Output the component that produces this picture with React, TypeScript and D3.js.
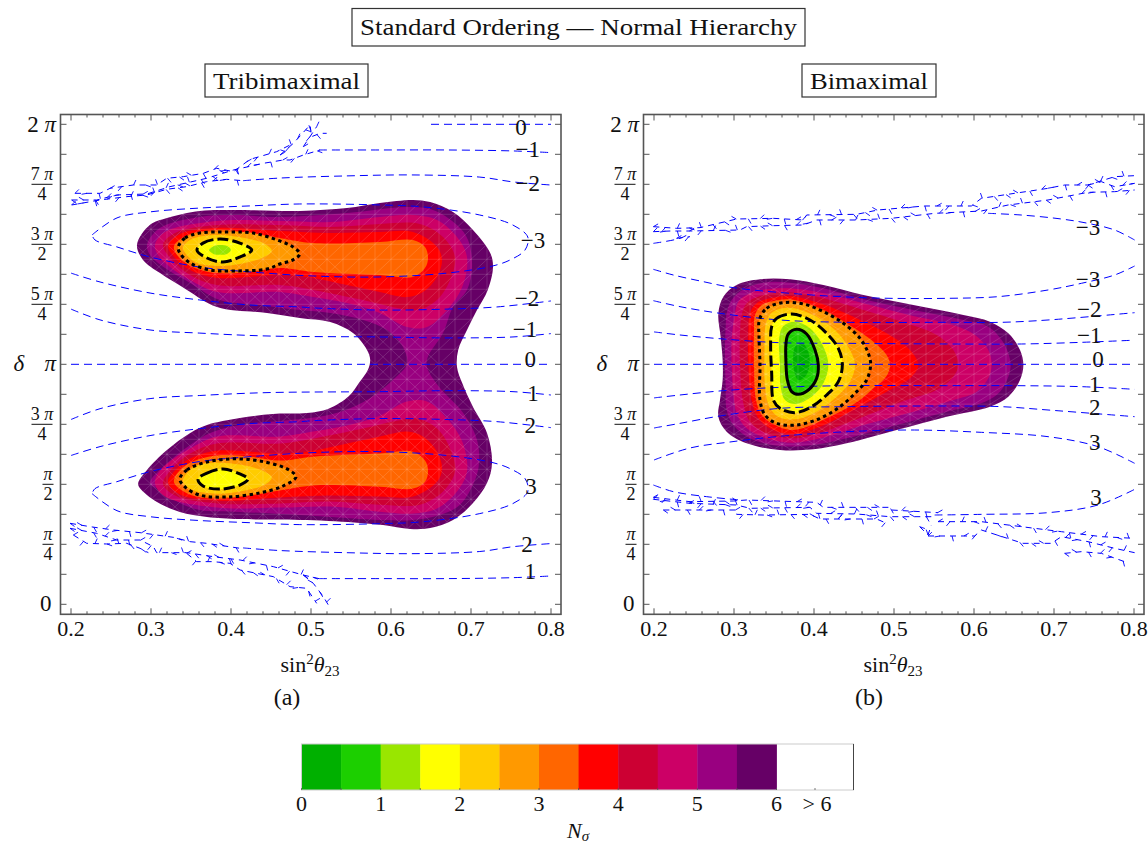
import React from "react";
import * as d3 from "d3";

type P = [number, number];

// Band colours, from the lowest N_sigma band upward
const bandColors = ["#00B000", "#1CCF00", "#99E600", "#FFFF00", "#FFCC00", "#FF9900", "#FF6600", "#FF0000", "#CC0033", "#CC0066", "#990080", "#660066"];
const barTicks = ["0", "1", "2", "3", "4", "5", "6"];

// ---- Tribimaximal: contours [sin^2 theta23, delta/pi]
const triLevel6: P[] = [[.2825,1.498],[.2988,1.581],[.32,1.61],[.361,1.639],[.4025,1.643],[.486,1.639],[.545,1.651],[.586,1.672],[.6275,1.685],[.649,1.676],[.6775,1.635],[.7025,1.56],[.724,1.464],[.7275,1.405],[.721,1.31],[.7075,1.226],[.695,1.143],[.684,1.06],[.6825,.989],[.689,.922],[.7025,.822],[.72,.714],[.7263,.589],[.72,.505],[.7025,.422],[.6775,.351],[.649,.318],[.624,.314],[.59,.33],[.561,.339],[.495,.351],[.411,.355],[.37,.364],[.336,.385],[.3075,.426],[.286,.485],[.284,.505],[.295,.56],[.32,.643],[.349,.714],[.37,.747],[.411,.776],[.4525,.793],[.495,.797],[.522,.815],[.5475,.868],[.5605,.925],[.571,.976],[.574,1.018],[.57,1.06],[.5525,1.13],[.524,1.176],[.486,1.193],[.445,1.214],[.3825,1.239],[.345,1.31],[.3113,1.38],[.29,1.435]];
const triLevel55: P[] = [[.295,1.498],[.311,1.568],[.361,1.614],[.4025,1.622],[.461,1.614],[.545,1.63],[.62,1.655],[.6525,1.643],[.6825,1.58],[.6963,1.518],[.7013,1.405],[.695,1.31],[.6775,1.239],[.665,1.13],[.646,1.03],[.645,.989],[.66,.906],[.69,.798],[.7075,.685],[.71,.589],[.705,.518],[.686,.414],[.661,.372],[.6275,.351],[.59,.351],[.486,.372],[.411,.385],[.361,.393],[.336,.422],[.311,.476],[.2988,.505],[.3175,.58],[.349,.664],[.374,.714],[.411,.747],[.461,.764],[.499,.776],[.5363,.801],[.574,.86],[.605,.943],[.62,1.001],[.615,1.072],[.595,1.143],[.565,1.185],[.524,1.214],[.486,1.226],[.436,1.247],[.386,1.268],[.349,1.339],[.3175,1.401],[.2988,1.455]];
const triLevel5: P[] = [[.305,1.498],[.3175,1.551],[.3825,1.597],[.461,1.597],[.524,1.593],[.586,1.614],[.6275,1.622],[.6575,1.601],[.6825,1.53],[.695,1.447],[.689,1.322],[.67,1.226],[.645,1.155],[.62,1.155],[.586,1.214],[.545,1.255],[.5025,1.28],[.461,1.301],[.3825,1.301],[.349,1.351],[.3238,1.405],[.3088,1.455]];
const triLevel45: P[] = [[.315,1.498],[.33,1.547],[.3825,1.58],[.461,1.58],[.524,1.572],[.586,1.585],[.636,1.585],[.665,1.53],[.68,1.447],[.6738,1.351],[.6575,1.268],[.6325,1.226],[.6075,1.235],[.565,1.268],[.5025,1.31],[.461,1.33],[.3825,1.33],[.349,1.372],[.3263,1.435]];
const triLevel4: P[] = [[.3213,1.493],[.3363,1.543],[.3825,1.568],[.461,1.555],[.524,1.547],[.586,1.551],[.6275,1.551],[.6575,1.489],[.6638,1.435],[.6575,1.364],[.64,1.301],[.62,1.28],[.586,1.301],[.545,1.33],[.5025,1.36],[.461,1.372],[.3825,1.36],[.349,1.393],[.33,1.443]];
const triLevel35: P[] = [[.3288,1.493],[.346,1.539],[.3825,1.56],[.4238,1.547],[.461,1.526],[.5025,1.505],[.586,1.51],[.6275,1.518],[.6425,1.489],[.6463,1.443],[.6425,1.401],[.6275,1.364],[.586,1.372],[.5025,1.385],[.461,1.401],[.4238,1.385],[.3825,1.38],[.349,1.41],[.3325,1.455]];
const triLevel3Up: P[] = [[.334,1.489],[.3425,1.526],[.361,1.547],[.395,1.551],[.4275,1.547],[.461,1.514],[.4775,1.489],[.486,1.46],[.4775,1.435],[.461,1.418],[.445,1.397],[.4025,1.389],[.374,1.393],[.349,1.422],[.336,1.464]];
const triLevel3Down: P[] = [[.336,.522],[.345,.56],[.37,.593],[.4025,.606],[.436,.597],[.47,.564],[.4813,.531],[.465,.493],[.436,.464],[.395,.447],[.361,.455],[.3425,.489]];
const triLevel25: P[] = [[.34,1.485],[.351,1.522],[.3825,1.539],[.4175,1.526],[.4425,1.501],[.451,1.472],[.4388,1.443],[.411,1.418],[.3825,1.41],[.355,1.426]];
const triLevel2Up: P[] = [[.3575,1.476],[.365,1.505],[.386,1.522],[.411,1.505],[.426,1.476],[.411,1.447],[.39,1.426],[.37,1.443]];
const triLevel2Down: P[] = [[.3588,.522],[.37,.547],[.39,.564],[.411,.543],[.4213,.522],[.411,.497],[.386,.48],[.365,.493]];
const triLevel15: P[] = [[.3725,1.476],[.379,1.493],[.386,1.497],[.395,1.493],[.4,1.476],[.395,1.46],[.386,1.456],[.378,1.46]];

// ---- Bimaximal: contours
const biLevel6: P[] = [[.2804,1.2124],[.2867,1.2818],[.3033,1.3304],[.3325,1.354],[.37,1.354],[.4117,1.3304],[.4617,1.2888],[.5242,1.2471],[.5867,1.2054],[.62,1.1777],[.6429,1.129],[.6575,1.0596],[.6617,.9971],[.6575,.9346],[.6429,.8652],[.62,.8235],[.5658,.7818],[.5033,.7263],[.4408,.6707],[.3992,.6457],[.3575,.6429],[.3158,.6707],[.2908,.7193],[.2804,.7818],[.2825,.8513],[.2858,.9346],[.2858,1.018],[.2833,1.1152]];
const biLevel55: P[] = [[.2908,1.2124],[.2971,1.268],[.3117,1.3124],[.3367,1.3402],[.37,1.3402],[.4117,1.3165],[.4617,1.2707],[.5242,1.2263],[.5867,1.1846],[.6179,1.1568],[.6346,1.1013],[.6429,1.0457],[.6458,.9971],[.6429,.9485],[.6325,.886],[.6138,.8443],[.5658,.8026],[.5033,.7471],[.4408,.6916],[.3992,.6638],[.3575,.6596],[.32,.6916],[.2992,.7471],[.2908,.8096],[.2896,.9068],[.2888,.9971],[.2888,1.0874],[.2896,1.1568]];
const biLevel5: P[] = [[.3013,1.2124],[.3054,1.261],[.32,1.2957],[.3408,1.3124],[.37,1.3165],[.4117,1.2957],[.4617,1.2541],[.5242,1.2013],[.5742,1.1638],[.6013,1.1221],[.6179,1.0596],[.6221,.9971],[.6179,.9415],[.6033,.886],[.5742,.8513],[.5242,.8026],[.4617,.7471],[.4075,.6916],[.3742,.6735],[.345,.6874],[.3158,.7332],[.3033,.7957],[.2992,.879],[.2971,.9971],[.2971,1.1013]];
const biLevel45: P[] = [[.3096,1.2054],[.3158,1.254],[.3325,1.2846],[.37,1.3],[.4117,1.2749],[.4617,1.2263],[.5158,1.1707],[.5533,1.1221],[.5742,1.0596],[.5804,.9971],[.5742,.9485],[.5533,.893],[.5158,.8513],[.4617,.7818],[.4117,.7193],[.3742,.6915],[.3408,.7124],[.32,.761],[.3117,.8374],[.3075,.9971],[.3075,1.1291]];
const biLevel4: P[] = [[.32,1.2124],[.3283,1.2541],[.345,1.2749],[.37,1.2846],[.4075,1.2541],[.4492,1.1985],[.4908,1.1291],[.52,1.0596],[.5304,.9971],[.5221,.9485],[.4908,.886],[.4492,.8096],[.4075,.7402],[.3742,.7096],[.3492,.7263],[.3304,.7749],[.3221,.8513],[.3179,.9971],[.3179,1.1291]];
const biLevel35: P[] = [[.3263,1.2054],[.3346,1.2471],[.3513,1.2652],[.37,1.2707],[.4075,1.2332],[.4408,1.1707],[.4742,1.0943],[.4905,1.04],[.495,.9971],[.4905,.95],[.4742,.9],[.4575,.8513],[.42,.7818],[.3742,.7263],[.3513,.7471],[.3346,.7888],[.3275,.8513],[.325,.9971],[.325,1.1291]];
const biLevel3: P[] = [[.3317,1.1846],[.3408,1.2332],[.3617,1.2568],[.3867,1.2513],[.4117,1.2193],[.4367,1.1707],[.4575,1.1082],[.4679,1.0457],[.4708,.9971],[.4658,.9346],[.4533,.886],[.4325,.8235],[.4075,.7749],[.3783,.7471],[.3533,.7541],[.3388,.7888],[.3325,.8513],[.3325,.9971],[.3313,1.1152]];
const biLevel25: P[] = [[.34,1.1707],[.3471,1.2152],[.3679,1.236],[.399,1.2054],[.4283,1.136],[.445,1.0596],[.4513,.9971],[.445,.9277],[.4283,.8652],[.4033,.8027],[.3763,.7707],[.3554,.7818],[.3442,.8235],[.3388,.9068],[.338,1.0596]];
const biLevel2: P[] = [[.3471,1.1568],[.3533,1.1915],[.3721,1.2096],[.395,1.1846],[.4158,1.1291],[.4304,1.0665],[.4354,.9971],[.4304,.9277],[.4158,.8721],[.3971,.8235],[.3763,.7985],[.3575,.8165],[.3492,.8513],[.3471,.9624],[.3458,1.0735]];
const biLevel15: P[] = [[.3567,1.1152],[.3617,1.1596],[.3763,1.1776],[.395,1.1499],[.4117,1.0735],[.4179,.9971],[.4117,.9207],[.3971,.8652],[.3763,.8346],[.3638,.8513],[.3583,.9068],[.3575,.9971]];
const biLevel1: P[] = [[.365,1.0874],[.3679,1.1263],[.3783,1.1457],[.3908,1.1263],[.4013,1.0596],[.4054,.9971],[.4033,.9415],[.3929,.8929],[.3804,.8749],[.3721,.886],[.3667,.9346],[.365,1.0041]];
const biLevel05: P[] = [[.3763,1.0735],[.3846,1.0902],[.3929,1.0527],[.3942,.9902],[.3888,.9485],[.3804,.9346],[.375,.9763]];

// ---- Blue contour lines, tribimaximal (upper half; the lower half is its reflection)
const triBlueZero: P[] = [[.2,1],[.8,1]];
const triBlueZeroTop: P[] = [[.65,2],[.8,2]];
const triBlueM1Top: P[] = [[.51,1.893],[.586,1.893],[.67,1.893],[.7525,1.889],[.8,1.882]];
const triBlueM2Top: P[] = [[.415,1.765],[.461,1.776],[.545,1.785],[.6275,1.789],[.711,1.78],[.7525,1.76],[.8,1.747]];
const triBlueM3: P[] = [[.2263,1.539],[.2575,1.61],[.2988,1.635],[.361,1.651],[.4238,1.66],[.486,1.668],[.586,1.664],[.64,1.656],[.711,1.622],[.7525,1.58],[.771,1.53],[.7675,1.476],[.749,1.435],[.7275,1.41],[.67,1.38],[.586,1.364],[.5025,1.368],[.4238,1.385],[.361,1.405],[.2988,1.447],[.2575,1.489],[.23,1.518],[.2263,1.539]];
const triBlueM2Low: P[] = [[.2,1.38],[.2363,1.343],[.2988,1.297],[.361,1.268],[.4238,1.247],[.486,1.239],[.5025,1.235],[.586,1.226],[.67,1.23],[.7325,1.239],[.8,1.264]];
const triBlueM1Low: P[] = [[.2,1.23],[.2363,1.185],[.2988,1.143],[.361,1.13],[.445,1.118],[.586,1.114],[.67,1.11],[.7525,1.114],[.8,1.128]];

// Broken, noisy stretches of the blue contours, tribimaximal
const triNoiseTop: P[][] = [
  [[.2008,1.6638],[.2363,1.6846],[.2696,1.6985],[.2946,1.7055],[.3196,1.7291],[.3446,1.7402],[.3696,1.761],[.3946,1.7707],[.415,1.765]],
  [[.205,1.7124],[.2363,1.7124],[.2488,1.7333],[.2779,1.7471],[.3071,1.7471],[.3196,1.7749],[.3404,1.7819],[.3654,1.7957],[.3821,1.8166],[.403,1.8027],[.4238,1.854],[.4571,1.886],[.478,1.9207]],
  [[.2008,1.6846],[.2321,1.6846],[.2571,1.7055],[.2946,1.7096],[.3238,1.7402],[.3696,1.775],[.403,1.8096],[.4404,1.8374],[.4654,1.8513],[.4738,1.8513],[.4904,1.872],[.5113,1.893]],
  [[.4613,1.872],[.478,1.9207],[.4988,1.9971],[.5008,1.9485],[.5113,1.9624],[.5196,1.9624]],
  [[.4904,1.9069],[.5071,1.9902]],
];
const triNoiseBottom: P[][] = [
  [[.1988,.3374],[.2238,.3235],[.2529,.3096],[.2863,.2985],[.328,.279],[.3488,.261],[.3696,.2541],[.4113,.2333]],
  [[.1988,.3166],[.2321,.2957],[.2571,.2679],[.2863,.2679],[.303,.2402],[.3071,.2152],[.3446,.2152],[.3779,.1985],[.4113,.1846],[.4529,.1569],[.49,.1221],[.51,.107]],
  [[.2029,.2888],[.2196,.2541],[.2446,.2513],[.2696,.2541],[.2863,.2333],[.2967,.2152]],
  [[.3446,.2124],[.3571,.1777],[.3779,.1777],[.3988,.1707],[.4113,.143],[.4321,.129],[.4529,.1152],[.4738,.0735],[.4946,.0666],[.5071,.004]],
  [[.4904,.122],[.5029,.0874],[.5154,.0319],[.5217,-.003]],
];

// ---- Blue contour lines, bimaximal
const biBlueZero: P[] = [[.2,1],[.8,1]];
const biBlueM3Top: P[] = [[.6175,1.629],[.6592,1.622],[.7092,1.6054],[.7425,1.5873],[.7758,1.5596],[.8008,1.5179]];
const biBlueM3Left: P[] = [[.1992,1.504],[.2325,1.5249],[.245,1.5457]];
const biBlueM3Low: P[] = [[.1992,1.3957],[.2242,1.372],[.2617,1.3443],[.2992,1.3193],[.37,1.2957],[.4325,1.2818],[.495,1.2749],[.5675,1.2749],[.63,1.2818],[.6925,1.3096],[.7342,1.3374],[.7758,1.3721],[.8008,1.4096]];
const biBlueM2: P[] = [[.1992,1.2651],[.2325,1.2402],[.2825,1.2124],[.3575,1.1846],[.4408,1.1749],[.5658,1.1749],[.6342,1.1749],[.6925,1.1846],[.8008,1.2151]];
const biBlueM1: P[] = [[.2,1.135],[.2325,1.1221],[.2867,1.1054],[.3575,1.09],[.4408,1.0874],[.5658,1.0846],[.6592,1.0846],[.7342,1.0915],[.7967,1.0999]];
const biBlueP1: P[] = [[.2,.86],[.2325,.8721],[.2867,.8902],[.3575,.9041],[.4408,.911],[.5658,.911],[.6508,.911],[.7342,.9068],[.8008,.8957]];
const biBlueP2: P[] = [[.2,.7346],[.2325,.754],[.2825,.7846],[.3575,.8165],[.4408,.8235],[.5658,.8263],[.6342,.8235],[.6925,.8096],[.8008,.7818]];
const biBlueP3Up: P[] = [[.2,.6013],[.245,.6513],[.295,.6763],[.3575,.7],[.4425,.7193],[.5258,.7262],[.6092,.7165],[.6925,.6985],[.755,.6568],[.8008,.5874]];
const biBlueP3LowLeft: P[] = [[.1992,.4971],[.2242,.4693],[.2658,.4485],[.3075,.4346]];
const biBlueP3LowRight: P[] = [[.5508,.372],[.6092,.3748],[.6925,.3818],[.755,.4137],[.8008,.479]];
const biNoiseTop: P[][] = [
  [[.1992,1.5526],[.22,1.5554],[.245,1.5554],[.3075,1.5596],[.3158,1.5735],[.3492,1.5776],[.3867,1.5804],[.4033,1.6013],[.4533,1.6013],[.4967,1.6082],[.5508,1.629],[.6092,1.6387],[.6425,1.6637],[.6925,1.6846],[.7425,1.7165],[.7758,1.7193],[.8008,1.7263]],
  [[.1992,1.5735],[.2283,1.5665],[.2575,1.5693],[.3033,1.6054],[.3492,1.6082],[.3867,1.6013],[.3908,1.6221],[.4533,1.6249],[.48,1.643],[.5383,1.6596],[.5967,1.6596],[.6092,1.6915],[.6508,1.7124],[.6925,1.7332],[.7133,1.7471],[.7425,1.7471],[.7758,1.7818],[.8008,1.786]],
  [[.7425,1.7471],[.7592,1.761],[.7758,1.74],[.8008,1.754]],
  [[.2283,1.5249],[.245,1.5318]],
];
const biNoiseBottom: P[][] = [
  [[.1992,.4457],[.245,.4276],[.2992,.4304],[.3158,.4346],[.4033,.4248],[.4117,.404],[.4533,.404],[.495,.404],[.4967,.3929],[.555,.3818]],
  [[.1992,.4374],[.245,.4207],[.3033,.4137],[.32,.4],[.395,.404],[.4033,.379],[.4533,.3762],[.495,.3651],[.5508,.3651]],
  [[.2117,.3929],[.3033,.3929],[.3033,.3748],[.3367,.372],[.395,.3748],[.4075,.3554],[.4783,.3554],[.4908,.3373]],
  [[.555,.3443],[.6092,.3443],[.6592,.3235],[.7092,.3026],[.7592,.2818],[.8008,.2748]],
  [[.5425,.2846],[.6008,.2846],[.6092,.3096],[.6613,.254],[.6967,.254],[.7092,.2818],[.7425,.261],[.7758,.2332],[.8008,.2151]],
  [[.7133,.2123],[.7342,.2193],[.7592,.2123],[.7883,.1776]],
  [[.5321,.3235],[.5425,.2888],[.5467,.3304]],
];

// Directions (degrees) of the short stray strokes along the noisy stretches
const strayAngles = [35, -150, 60, -45, 170, 75, -30, 130, -65, 20, -110, 50];

// ---- Contour number labels: text, x, delta/pi
const triLabelText = ["0", "\u22121", "\u22122", "\u22123", "\u22122", "\u22121", "0", "1", "2", "3", "2", "1"];
const triLabelX = [.7625, .771, .771, .7775, .77, .7675, .774, .7775, .774, .775, .77, .774];
const triLabelD = [1.985, 1.897, 1.755, 1.514, 1.276, 1.143, 1.018, .88, .743, .489, .251, .135];
const biLabelText = ["\u22123", "\u22123", "\u22122", "\u22121", "0", "1", "2", "3", "3"];
const biLabelX = [.7425, .7425, .744, .744, .755, .751, .751, .751, .7525];
const biLabelD = [1.572, 1.355, 1.23, 1.118, 1.018, .914, .822, .676, .447];

// ---- Axis ticks
const xMajor = [.2, .3, .4, .5, .6, .7, .8];
const deltaFractions: [number, string, string][] = [[1.75, "7", "4"], [1.5, "3", "2"], [1.25, "5", "4"], [.75, "3", "4"], [.5, "", "2"], [.25, "", "4"]];

const FONT = "'Liberation Serif', 'DejaVu Serif', serif";
const PI = "\u03c0";
const mirror = (pts: P[]): P[] => pts.map(([x, d]) => [x, 2 - d] as P);

type Fill = { level: number; shapes: P[][] };
type PanelProps = {
  left: number;
  fills: Fill[];
  dotted: P[][];
  dashed: P[][];
  solid: P[][];
  blue: P[][];
  noise: P[][];
  labelText: string[];
  labelX: number[];
  labelD: number[];
  clipId: string;
  meshStepD: number;
};

function Panel({ left, fills, dotted, dashed, solid, blue, noise, labelText, labelX, labelD, clipId, meshStepD }: PanelProps) {
  const x = d3.scaleLinear().domain([.2, .8]).range([left, left + 480]);
  const y = d3.scaleLinear().domain([0, 2]).range([604.3, 124.3]);
  const closed = d3.line<P>().x((p) => x(p[0])).y((p) => y(p[1])).curve(d3.curveCatmullRomClosed.alpha(0.5));
  const open = d3.line<P>().x((p) => x(p[0])).y((p) => y(p[1])).curve(d3.curveCatmullRom.alpha(0.5));
  const rough = d3.line<P>().x((p) => x(p[0])).y((p) => y(p[1])).curve(d3.curveLinear);
  const frame = { l: x(.2) - 10.5, r: x(.8) + 10, t: 114.5, b: 614.3 };
  const minorX = d3.range(.2, .8001, .02);
  const minorY = d3.range(0, 2.001, .125);
  const meshX = d3.range(.2, .8001, .02);
  const meshY = d3.range(0, 2.001, meshStepD);
  const outer = fills[0].shapes;
  const black = "#000";

  // short stray strokes placed along each noisy stretch
  const strays: [number, number, number, number][] = [];
  noise.forEach((strand) => {
    let carry = 0;
    let n = strand.length * 3;
    for (let i = 1; i < strand.length; i++) {
      const ax = x(strand[i - 1][0]), ay = y(strand[i - 1][1]);
      const bx = x(strand[i][0]), by = y(strand[i][1]);
      const L = Math.hypot(bx - ax, by - ay);
      let t = carry;
      while (t < L) {
        const px = ax + ((bx - ax) * t) / L;
        const py = ay + ((by - ay) * t) / L;
        const a = (strayAngles[n % strayAngles.length] * Math.PI) / 180;
        strays.push([px, py, px + 5.5 * Math.cos(a), py + 5.5 * Math.sin(a)]);
        n += 1;
        t += 12;
      }
      carry = t - L;
    }
  });

  return (
    <g>
      <defs>
        <clipPath id={clipId}>
          {outer.map((s, i) => <path key={i} d={closed(s) || ""} />)}
        </clipPath>
      </defs>
      {fills.map((f) => f.shapes.map((s, i) => (
        <path key={f.level + "-" + i} d={closed(s) || ""} fill={bandColors[Math.round(f.level * 2) - 1]} />
      )))}
      <g clipPath={`url(#${clipId})`} stroke="#fff" strokeOpacity={0.2} strokeWidth={0.7} fill="none">
        {meshX.map((v) => <line key={"v" + v} x1={x(v)} x2={x(v)} y1={y(0.2)} y2={y(1.9)} />)}
        {meshY.map((v) => <line key={"h" + v} y1={y(v)} y2={y(v)} x1={x(.25)} x2={x(.75)} />)}
        {d3.range(-40, 40).map((k) => {
          const dx = x(.22) - x(.2);
          const dy = y(0) - y(meshStepD);
          return (
            <g key={"d" + k}>
              <line x1={x(.2) + k * dx} y1={y(0)} x2={x(.2) + (k + 40) * dx} y2={y(0) - 40 * dy} />
              <line x1={x(.2) + k * dx} y1={y(0)} x2={x(.2) + (k - 40) * dx} y2={y(0) - 40 * dy} />
            </g>
          );
        })}
      </g>
      {blue.map((s, i) => <path key={i} d={open(s) || ""} fill="none" stroke="#0000FF" strokeWidth={1} strokeDasharray="8 5" />)}
      {noise.map((s, i) => <path key={i} d={rough(s) || ""} fill="none" stroke="#0000FF" strokeWidth={1} strokeDasharray="6 5" />)}
      <g stroke="#0000FF" strokeWidth={0.9}>
        {strays.map((s, i) => <line key={i} x1={s[0]} y1={s[1]} x2={s[2]} y2={s[3]} />)}
      </g>
      {dotted.map((s, i) => <path key={i} d={closed(s) || ""} fill="none" stroke={black} strokeWidth={3} strokeDasharray="3.4 3.4" />)}
      {dashed.map((s, i) => <path key={i} d={closed(s) || ""} fill="none" stroke={black} strokeWidth={3} strokeDasharray="11 4" />)}
      {solid.map((s, i) => <path key={i} d={closed(s) || ""} fill="none" stroke={black} strokeWidth={3} />)}
      <rect x={frame.l} y={frame.t} width={frame.r - frame.l} height={frame.b - frame.t} fill="none" stroke="#555" strokeWidth={1.6} />
      <g stroke="#555" strokeWidth={1}>
        {minorX.map((v) => {
          const major = xMajor.some((m) => Math.abs(m - v) < 1e-6);
          const len = major ? 6 : 3;
          return (
            <g key={v}>
              <line x1={x(v)} x2={x(v)} y1={frame.b} y2={frame.b - len} />
              <line x1={x(v)} x2={x(v)} y1={frame.t} y2={frame.t + len} />
            </g>
          );
        })}
        {minorY.map((v) => (
          <g key={v}>
            <line x1={frame.l} x2={frame.l + 6} y1={y(v)} y2={y(v)} />
            <line x1={frame.r} x2={frame.r - 6} y1={y(v)} y2={y(v)} />
          </g>
        ))}
      </g>
      <g fontFamily={FONT} fill="#111">
        {xMajor.map((v) => (
          <text key={v} x={x(v)} y={636} fontSize={22} textAnchor="middle">{v.toFixed(1)}</text>
        ))}
        <text x={frame.l - 4.5} y={y(2) + 7.5} fontSize={23} textAnchor="end">2 <tspan fontStyle="italic">{PI}</tspan></text>
        <text x={frame.l - 4.5} y={y(1) + 6.5} fontSize={23} textAnchor="end" fontStyle="italic">{PI}</text>
        <text x={frame.l - 9} y={y(0) + 7} fontSize={23} textAnchor="end">0</text>
        <text x={frame.l - 47} y={y(1) + 7} fontSize={23} fontStyle="italic">{"\u03b4"}</text>
        {deltaFractions.map(([d, num, den]) => {
          const cx = frame.l - (num ? 18.5 : 12.5);
          const half = num ? 10.5 : 5.5;
          return (
            <g key={d}>
              <text x={cx} y={y(d) - 4} fontSize={18} textAnchor="middle">{num ? num + " " : ""}<tspan fontStyle="italic">{PI}</tspan></text>
              <line x1={cx - half} x2={cx + half} y1={y(d)} y2={y(d)} stroke="#111" strokeWidth={1} />
              <text x={cx} y={y(d) + 15.5} fontSize={18} textAnchor="middle">{den}</text>
            </g>
          );
        })}
        <text x={x(.5) - 1} y={672} fontSize={22} textAnchor="middle">
          sin<tspan dy={-8} fontSize={15}>2</tspan><tspan dy={8} fontStyle="italic">{"\u03b8"}</tspan><tspan dy={4} fontSize={15}>23</tspan>
        </text>
        {labelText.map((t, i) => (
          <text key={i} x={x(labelX[i])} y={y(labelD[i]) + 7.5} fontSize={23} textAnchor="middle">{t}</text>
        ))}
      </g>
    </g>
  );
}

function TitleBox({ x0, x1, y0, y1, label }: { x0: number; x1: number; y0: number; y1: number; label: string }) {
  return (
    <g>
      <rect x={x0} y={y0} width={x1 - x0} height={y1 - y0} fill="#fff" stroke="#333" strokeWidth={1.2} />
      <text x={x0 + 8} y={(y0 + y1) / 2 + 8} fontFamily={FONT} fontSize={24} fill="#111" textLength={x1 - x0 - 16} lengthAdjust="spacingAndGlyphs">{label}</text>
    </g>
  );
}

function ColorBar() {
  const x = d3.scaleLinear().domain([0, 6]).range([301.5, 776.5]);
  const bands = d3.range(0, 12);
  const y0 = 744;
  const y1 = 790;
  const xEnd = 853.5;
  return (
    <g>
      {bands.map((i) => (
        <rect key={i} x={x(i / 2)} y={y0} width={x(.5) - x(0) + .4} height={y1 - y0} fill={bandColors[i]} />
      ))}
      <rect x={x(0)} y={y0} width={xEnd - x(0)} height={y1 - y0} fill="none" stroke="#ccc" strokeWidth={1} />
      <line x1={xEnd} x2={xEnd} y1={y0} y2={y1} stroke="#444" strokeWidth={1} />
      <g stroke="#555" strokeWidth={0.8}>
        {d3.range(0, 13).map((i) => <line key={i} x1={x(i / 2)} x2={x(i / 2)} y1={y1} y2={y1 - 2} />)}
        <line x1={815} x2={815} y1={y1} y2={y1 - 2} />
      </g>
      <g fontFamily={FONT} fill="#111" fontSize={22} textAnchor="middle">
        {barTicks.map((t, i) => <text key={t} x={x(i)} y={811}>{t}</text>)}
        <text x={817} y={811}>{">"} 6</text>
        <text x={578} y={838} fontStyle="italic">N<tspan dy={3} fontSize={15}>{"\u03c3"}</tspan></text>
      </g>
    </g>
  );
}

export default function App() {
  const triFills: Fill[] = [
    { level: 6, shapes: [triLevel6] },
    { level: 5.5, shapes: [triLevel55] },
    { level: 5, shapes: [triLevel5, mirror(triLevel5)] },
    { level: 4.5, shapes: [triLevel45, mirror(triLevel45)] },
    { level: 4, shapes: [triLevel4, mirror(triLevel4)] },
    { level: 3.5, shapes: [triLevel35, mirror(triLevel35)] },
    { level: 3, shapes: [triLevel3Up, triLevel3Down] },
    { level: 2.5, shapes: [triLevel25, mirror(triLevel25)] },
    { level: 2, shapes: [triLevel2Up, triLevel2Down] },
    { level: 1.5, shapes: [triLevel15] },
  ];
  const biFills: Fill[] = [
    { level: 6, shapes: [biLevel6] },
    { level: 5.5, shapes: [biLevel55] },
    { level: 5, shapes: [biLevel5] },
    { level: 4.5, shapes: [biLevel45] },
    { level: 4, shapes: [biLevel4] },
    { level: 3.5, shapes: [biLevel35] },
    { level: 3, shapes: [biLevel3] },
    { level: 2.5, shapes: [biLevel25] },
    { level: 2, shapes: [biLevel2] },
    { level: 1.5, shapes: [biLevel15] },
    { level: 1, shapes: [biLevel1] },
    { level: .5, shapes: [biLevel05] },
  ];
  const triBlue = [triBlueZero, triBlueZeroTop, triBlueM1Top, triBlueM2Top, triBlueM3, triBlueM2Low, triBlueM1Low,
    mirror(triBlueM1Top), mirror(triBlueM2Top), mirror(triBlueM3), mirror(triBlueM2Low), mirror(triBlueM1Low)];
  const biBlue = [biBlueZero, biBlueM3Top, biBlueM3Left, biBlueM3Low, biBlueM2, biBlueM1, biBlueP1, biBlueP2, biBlueP3Up, biBlueP3LowLeft, biBlueP3LowRight];
  return (
    <svg width={1148} height={843} viewBox="0 0 1148 843" style={{ position: "absolute", left: 0, top: 0, background: "#fff" }}>
      <TitleBox x0={352} x1={805} y0={8.5} y1={46} label={"Standard Ordering \u2014 Normal Hierarchy"} />
      <TitleBox x0={205} x1={368} y0={64} y1={97} label="Tribimaximal" />
      <TitleBox x0={802} x1={936} y0={64} y1={97} label="Bimaximal" />
      <Panel left={71} fills={triFills} dotted={[triLevel3Up, triLevel3Down]} dashed={[triLevel2Up, triLevel2Down]} solid={[]}
        blue={triBlue} noise={[...triNoiseTop, ...triNoiseBottom]} labelText={triLabelText} labelX={triLabelX} labelD={triLabelD} clipId="triClip" meshStepD={.0625} />
      <Panel left={654} fills={biFills} dotted={[biLevel3]} dashed={[biLevel2]} solid={[biLevel1]}
        blue={biBlue} noise={[...biNoiseTop, ...biNoiseBottom]} labelText={biLabelText} labelX={biLabelX} labelD={biLabelD} clipId="biClip" meshStepD={.0417} />
      <text x={287} y={705} fontFamily={FONT} fontSize={24} textAnchor="middle" fill="#111">(a)</text>
      <text x={869} y={705} fontFamily={FONT} fontSize={24} textAnchor="middle" fill="#111">(b)</text>
      <ColorBar />
    </svg>
  );
}
